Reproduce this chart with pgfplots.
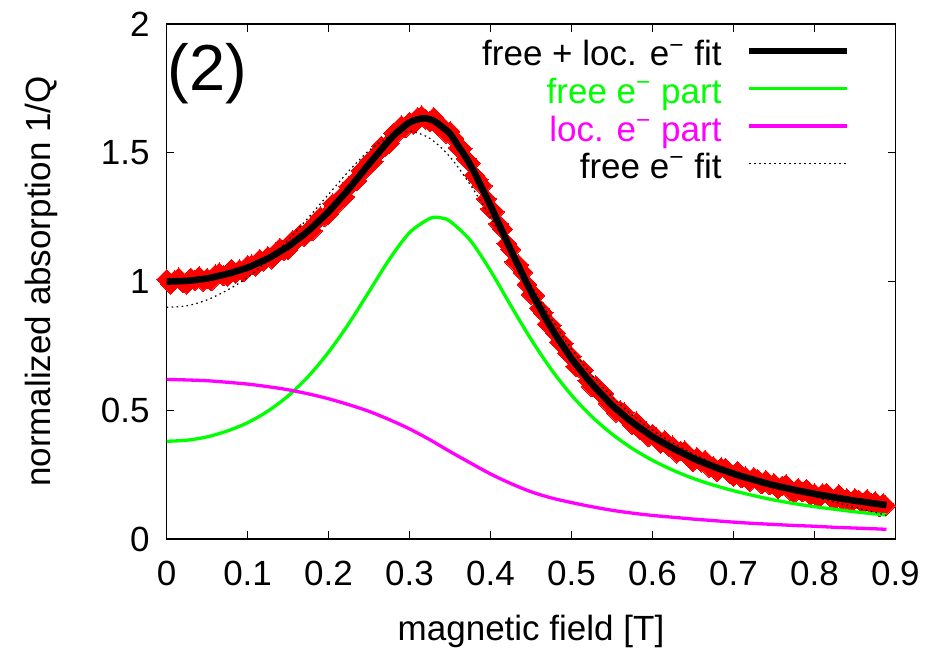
\documentclass[border=0pt]{standalone}
\usepackage{fontspec}
\setmainfont{Liberation Sans}
\usepackage{pgfplots}
\pgfplotsset{compat=1.18}
\definecolor{gpgreen}{RGB}{0,255,0}
\definecolor{gpmagenta}{RGB}{255,0,255}
\definecolor{gpred}{RGB}{255,0,0}
\begin{document}
\begin{tikzpicture}
\begin{axis}[
  at={(0,0)}, anchor=south west,
  scale only axis,
  width=364.3pt, height=257.5pt,
  xmin=0, xmax=0.9, ymin=0, ymax=2,
  xtick={0,0.1,0.2,0.3,0.4,0.5,0.6,0.7,0.8,0.9},
  ytick={0,0.5,1,1.5,2},
  font=\fontsize{17.5}{21}\selectfont,
  /pgf/number format/assume math mode=true,
  tick style={black, line width=0.7pt},
  major tick length=3.9pt,
  axis line style={line width=0.7pt},
  xticklabel style={yshift=-7.2pt},
  yticklabel style={xshift=-5pt},
  xlabel={magnetic field [T]},
  ylabel={normalized absorption 1/Q},
  xlabel style={at={(axis description cs:0.5,-0.19612)}, anchor=base, inner sep=0pt},
  ylabel style={at={(axis description cs:-0.16003,0.5)}, anchor=base, inner sep=0pt},
  clip=false,
  clip marker paths=true,
  legend plot pos=right,
  legend cell align=right,
  legend image code/.code={\draw[#1] (0pt,3.9pt) -- (48.7pt,3.9pt);},
  legend style={
    at={(axis description cs:0.938,0.969)}, anchor=north east,
    draw=none, fill=none, inner sep=0pt, outer sep=0pt,
    column sep=12.3pt, row sep=0pt,
    nodes={inner sep=0pt, text height=13pt, text depth=5.75pt},
  },
]
%% measured points (red diamonds)
\addplot[only marks, mark=square*, mark size=3.5pt,
  mark options={rotate=45, fill=gpred, draw=gpred, line width=0pt}, forget plot]
coordinates {
(0.000,1.008) (0.005,0.990) (0.010,1.005) (0.015,1.015) (0.020,0.996)
(0.025,0.990) (0.030,1.014) (0.035,1.004) (0.040,1.020) (0.045,1.001)
(0.050,1.013) (0.055,1.002) (0.060,1.026) (0.065,1.034) (0.070,1.022)
(0.075,1.020) (0.080,1.048) (0.085,1.032) (0.090,1.047) (0.095,1.037)
(0.100,1.063) (0.105,1.066) (0.110,1.060) (0.115,1.087) (0.120,1.079)
(0.125,1.098) (0.130,1.087) (0.135,1.112) (0.140,1.130) (0.145,1.121)
(0.150,1.123) (0.155,1.158) (0.160,1.158) (0.165,1.184) (0.170,1.175)
(0.175,1.199) (0.180,1.197) (0.185,1.233) (0.190,1.252) (0.195,1.252)
(0.200,1.261) (0.205,1.303) (0.210,1.299) (0.215,1.327) (0.220,1.329)
(0.225,1.369) (0.230,1.384) (0.235,1.391) (0.240,1.430) (0.245,1.435)
(0.250,1.465) (0.255,1.465) (0.260,1.498) (0.265,1.526) (0.270,1.525)
(0.275,1.536) (0.280,1.576) (0.285,1.578) (0.290,1.606) (0.295,1.597)
(0.300,1.619) (0.305,1.610) (0.310,1.637) (0.315,1.644) (0.320,1.630)
(0.325,1.620) (0.330,1.638) (0.335,1.606) (0.340,1.604) (0.345,1.576)
(0.350,1.583) (0.355,1.556) (0.360,1.519) (0.365,1.516) (0.370,1.477)
(0.375,1.460) (0.380,1.413) (0.385,1.396) (0.390,1.372) (0.395,1.321)
(0.400,1.282) (0.405,1.271) (0.410,1.224) (0.415,1.204) (0.420,1.148)
(0.425,1.125) (0.430,1.076) (0.435,1.065) (0.440,1.036) (0.445,0.989)
(0.450,0.950) (0.455,0.946) (0.460,0.897) (0.465,0.879) (0.470,0.835)
(0.475,0.830) (0.480,0.800) (0.485,0.764) (0.490,0.760) (0.495,0.722)
(0.500,0.709) (0.505,0.670) (0.510,0.665) (0.515,0.655) (0.520,0.616)
(0.525,0.591) (0.530,0.596) (0.535,0.568) (0.540,0.565) (0.545,0.528)
(0.550,0.521) (0.555,0.493) (0.560,0.500) (0.565,0.491) (0.570,0.462)
(0.575,0.444) (0.580,0.456) (0.585,0.424) (0.590,0.423) (0.595,0.397)
(0.600,0.407) (0.605,0.394) (0.610,0.372) (0.615,0.383) (0.620,0.359)
(0.625,0.362) (0.630,0.334) (0.635,0.342) (0.640,0.343) (0.645,0.316)
(0.650,0.301) (0.655,0.318) (0.660,0.299) (0.665,0.307) (0.670,0.279)
(0.675,0.283) (0.680,0.262) (0.685,0.278) (0.690,0.276) (0.695,0.256)
(0.700,0.244) (0.705,0.263) (0.710,0.237) (0.715,0.243) (0.720,0.223)
(0.725,0.240) (0.730,0.231) (0.735,0.214) (0.740,0.229) (0.745,0.210)
(0.750,0.217) (0.755,0.195) (0.760,0.206) (0.765,0.212) (0.770,0.189)
(0.775,0.179) (0.780,0.198) (0.785,0.183) (0.790,0.194) (0.795,0.170)
(0.800,0.177) (0.805,0.159) (0.810,0.177) (0.815,0.179) (0.820,0.161)
(0.825,0.152) (0.830,0.173) (0.835,0.150) (0.840,0.157) (0.845,0.140)
(0.850,0.158) (0.855,0.152) (0.860,0.137) (0.865,0.155) (0.870,0.137)
(0.875,0.146) (0.880,0.125) (0.885,0.138) (0.888,0.130)
};
%% free + localized fit
\addplot[black, line width=3.3pt, smooth, mark=none] coordinates {
(0.00,1.000) (0.01,1.001) (0.02,1.002) (0.03,1.004) (0.04,1.008)
(0.05,1.012) (0.06,1.019) (0.07,1.026) (0.08,1.034) (0.09,1.044)
(0.10,1.054) (0.11,1.068) (0.12,1.082) (0.13,1.098) (0.14,1.117)
(0.15,1.136) (0.16,1.160) (0.17,1.184) (0.18,1.211) (0.19,1.241)
(0.20,1.271) (0.21,1.306) (0.22,1.341) (0.23,1.379) (0.24,1.418)
(0.25,1.457) (0.26,1.494) (0.27,1.531) (0.28,1.566) (0.29,1.594)
(0.30,1.618) (0.31,1.630) (0.32,1.634) (0.33,1.624) (0.34,1.601)
(0.35,1.574) (0.36,1.527) (0.37,1.480) (0.38,1.424) (0.39,1.359)
(0.40,1.295) (0.41,1.226) (0.42,1.157) (0.43,1.090) (0.44,1.025)
(0.45,0.960) (0.46,0.904) (0.47,0.847) (0.48,0.795) (0.49,0.748)
(0.50,0.701) (0.51,0.661) (0.52,0.622) (0.53,0.586) (0.54,0.553)
(0.55,0.520) (0.56,0.493) (0.57,0.466) (0.58,0.442) (0.59,0.420)
(0.60,0.398) (0.61,0.380) (0.62,0.362) (0.63,0.345) (0.64,0.330)
(0.65,0.314) (0.66,0.301) (0.67,0.288) (0.68,0.276) (0.69,0.265)
(0.70,0.254) (0.71,0.244) (0.72,0.235) (0.73,0.226) (0.74,0.217)
(0.75,0.209) (0.76,0.202) (0.77,0.195) (0.78,0.188) (0.79,0.182)
(0.80,0.176) (0.81,0.170) (0.82,0.165) (0.83,0.159) (0.84,0.154)
(0.85,0.149) (0.86,0.145) (0.87,0.140) (0.88,0.136) (0.889,0.132)
};
\addlegendentry{free + loc. e\textsuperscript{−} fit}
%% free electron part
\addplot[gpgreen, line width=1.65pt, smooth, mark=none] coordinates {
(0,0.380) (0.025,0.384) (0.05,0.397) (0.075,0.420) (0.1,0.452)
(0.125,0.497) (0.15,0.556) (0.175,0.632) (0.2,0.726) (0.225,0.837)
(0.25,0.961) (0.275,1.086) (0.3,1.190) (0.325,1.245) (0.3375,1.248)
(0.35,1.234) (0.375,1.160) (0.4,1.042) (0.425,0.907) (0.45,0.776)
(0.475,0.659) (0.5,0.559) (0.525,0.476) (0.55,0.408) (0.575,0.352)
(0.6,0.306) (0.625,0.268) (0.65,0.236) (0.675,0.210) (0.7,0.188)
(0.725,0.169) (0.75,0.152) (0.775,0.138) (0.8,0.126) (0.825,0.116)
(0.85,0.106) (0.875,0.098) (0.889,0.094)
};
\addlegendentry[text=gpgreen]{free e\textsuperscript{−} part}
%% localized electron part
\addplot[gpmagenta, line width=1.65pt, smooth, mark=none] coordinates {
(0,0.620) (0.025,0.618) (0.05,0.615) (0.075,0.609) (0.1,0.602)
(0.125,0.592) (0.15,0.580) (0.175,0.564) (0.2,0.545) (0.225,0.522)
(0.25,0.496) (0.275,0.464) (0.3,0.428) (0.325,0.386) (0.35,0.340)
(0.375,0.296) (0.4,0.253) (0.425,0.216) (0.45,0.184) (0.475,0.160)
(0.5,0.142) (0.525,0.126) (0.55,0.112) (0.575,0.101) (0.6,0.092)
(0.625,0.085) (0.65,0.078) (0.675,0.072) (0.7,0.066) (0.725,0.061)
(0.75,0.057) (0.775,0.053) (0.8,0.050) (0.825,0.046) (0.85,0.043)
(0.875,0.040) (0.889,0.038)
};
\addlegendentry[text=gpmagenta]{loc. e\textsuperscript{−} part}
%% free electron only fit
\addplot[black, line width=0.6pt, dash pattern=on 0.8pt off 1.7pt, smooth, mark=none] coordinates {
(0,0.900) (0.025,0.906) (0.05,0.929) (0.075,0.967) (0.1,1.016)
(0.125,1.081) (0.15,1.161) (0.175,1.248) (0.2,1.339) (0.225,1.429)
(0.25,1.509) (0.275,1.562) (0.3,1.583) (0.325,1.556) (0.35,1.484)
(0.375,1.376) (0.4,1.250) (0.425,1.118) (0.45,0.985) (0.475,0.856)
(0.5,0.739) (0.525,0.638) (0.55,0.553) (0.575,0.482) (0.6,0.423)
(0.625,0.374) (0.65,0.331) (0.675,0.295) (0.7,0.263) (0.725,0.235)
(0.75,0.210) (0.775,0.186) (0.8,0.165) (0.825,0.144) (0.85,0.123)
(0.875,0.104) (0.889,0.092)
};
\addlegendentry{free e\textsuperscript{−} fit}
\node[anchor=base west, inner sep=0pt, font=\fontsize{32.5}{39}\selectfont]
  at (axis description cs:0.001,0.8718) {(2)};
\end{axis}
\pgfresetboundingbox
\path[use as bounding box] (-83.3pt,-58pt) rectangle (385.6pt,269.5pt);
\end{tikzpicture}
\end{document}
